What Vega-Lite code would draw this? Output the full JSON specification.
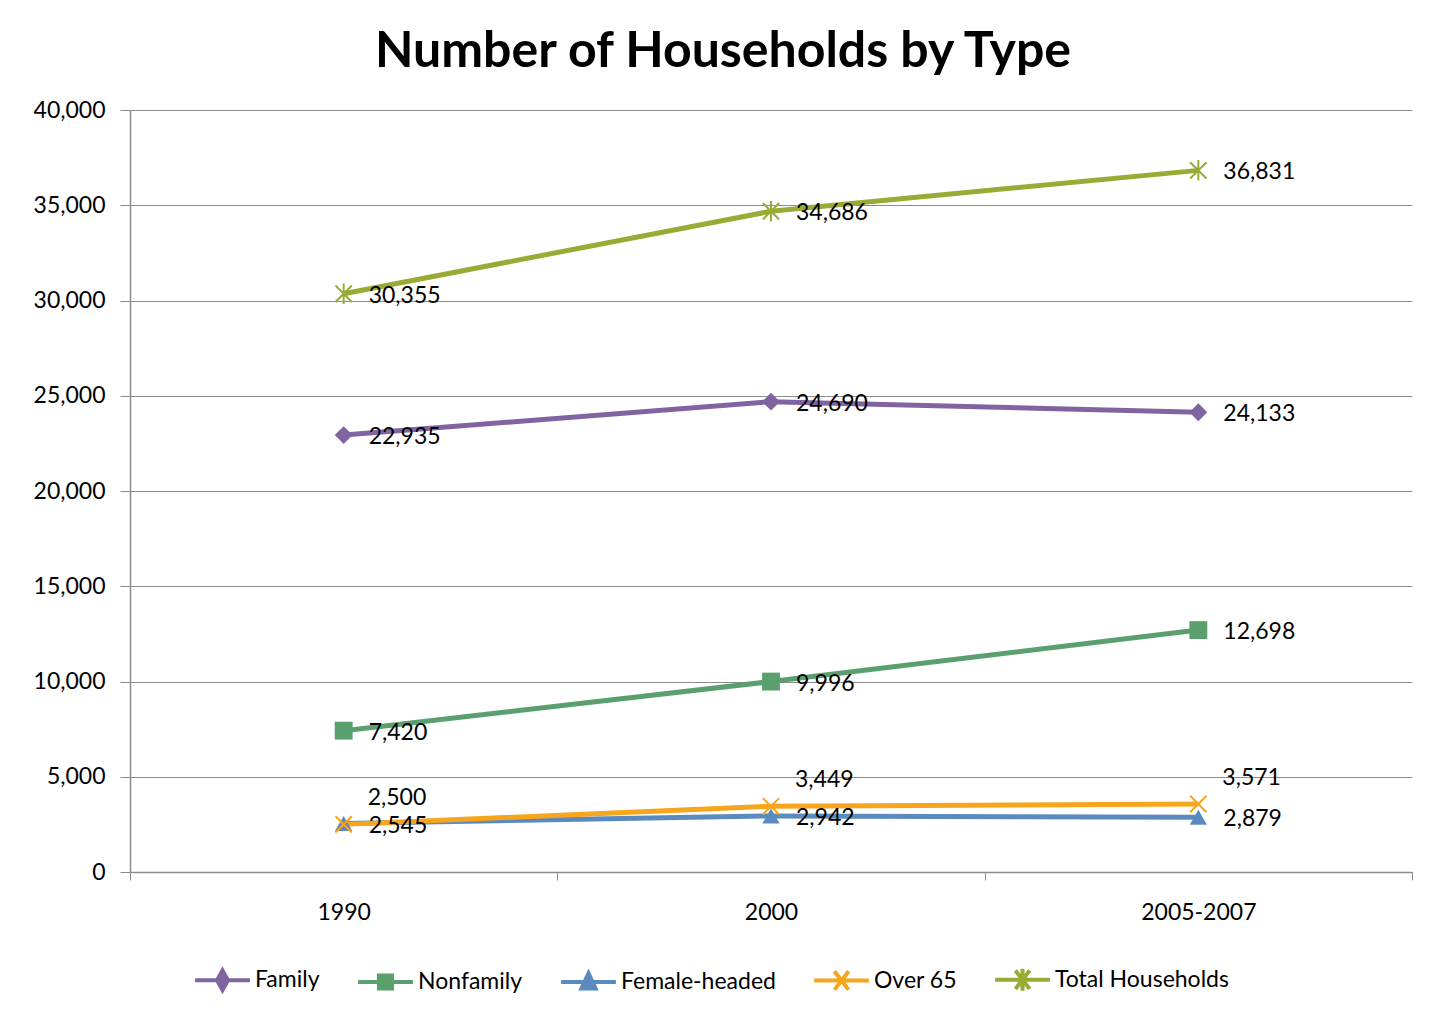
{
  "$schema": "https://vega.github.io/schema/vega-lite/v6.json",
  "width": 1282,
  "height": 762,
  "autosize": {"type": "none"},
  "padding": {"left": 130, "top": 110, "right": 32, "bottom": 145},
  "background": "white",
  "title": {
    "text": "Number of Households by Type",
    "font": "Lato",
    "fontSize": 50,
    "fontWeight": "bold",
    "color": "#000000",
    "anchor": "middle",
    "dx": -48,
    "offset": 22
  },
  "data": {
    "values": [
      {"series": "Family", "period": "1990", "value": 22935, "pos": "right"},
      {"series": "Family", "period": "2000", "value": 24690, "pos": "right"},
      {"series": "Family", "period": "2005-2007", "value": 24133, "pos": "right"},
      {"series": "Nonfamily", "period": "1990", "value": 7420, "pos": "right"},
      {"series": "Nonfamily", "period": "2000", "value": 9996, "pos": "right"},
      {"series": "Nonfamily", "period": "2005-2007", "value": 12698, "pos": "right"},
      {"series": "Female-headed", "period": "1990", "value": 2545, "pos": "right"},
      {"series": "Female-headed", "period": "2000", "value": 2942, "pos": "right"},
      {"series": "Female-headed", "period": "2005-2007", "value": 2879, "pos": "right"},
      {"series": "Over 65", "period": "1990", "value": 2500, "pos": "above"},
      {"series": "Over 65", "period": "2000", "value": 3449, "pos": "above"},
      {"series": "Over 65", "period": "2005-2007", "value": 3571, "pos": "above"},
      {"series": "Total Households", "period": "1990", "value": 30355, "pos": "right"},
      {"series": "Total Households", "period": "2000", "value": 34686, "pos": "right"},
      {"series": "Total Households", "period": "2005-2007", "value": 36831, "pos": "right"}
    ]
  },
  "encoding": {
    "x": {
      "field": "period",
      "type": "nominal",
      "sort": ["1990", "2000", "2005-2007"],
      "scale": {"type": "band", "paddingInner": 0, "paddingOuter": 0},
      "axis": {
        "title": null,
        "labelAngle": 0,
        "tickBand": "extent",
        "labelFont": "Lato",
        "labelFontSize": 23,
        "labelColor": "#000000",
        "labelPadding": 21,
        "tickSize": 8,
        "tickColor": "#8c8c8c",
        "domainColor": "#8c8c8c",
        "domainWidth": 1.5,
        "grid": false
      }
    },
    "y": {
      "field": "value",
      "type": "quantitative",
      "scale": {"domain": [0, 40000], "nice": false},
      "axis": {
        "title": null,
        "values": [0, 5000, 10000, 15000, 20000, 25000, 30000, 35000, 40000],
        "format": ",.0f",
        "labelFont": "Lato",
        "labelFontSize": 23,
        "labelColor": "#000000",
        "labelPadding": 15,
        "tickSize": 10,
        "tickColor": "#8c8c8c",
        "domainColor": "#8c8c8c",
        "domainWidth": 1.5,
        "grid": true,
        "gridColor": "#8c8c8c",
        "gridWidth": 1
      }
    },
    "color": {
      "field": "series",
      "type": "nominal",
      "sort": ["Family", "Nonfamily", "Female-headed", "Over 65", "Total Households"],
      "scale": {
        "domain": ["Family", "Nonfamily", "Female-headed", "Over 65", "Total Households"],
        "range": ["#8064A2", "#5AA06E", "#5B8BBE", "#F7A51C", "#9AAB35"]
      },
      "legend": {
        "title": null,
        "orient": "none",
        "legendX": 63,
        "legendY": 840,
        "direction": "horizontal",
        "labelFont": "Lato",
        "labelFontSize": 23,
        "labelColor": "#000000",
        "labelOffset": 3,
        "labelLimit": 0,
        "columnPadding": 30,
        "symbolSize": 3000,
        "symbolStrokeWidth": 4,
        "encode": {
          "symbols": {
            "update": {
              "shape": {"signal": "datum.value === 'Family' ? 'M-1,0L1,0M0,-0.36L0.2,0L0,0.36L-0.2,0Z' : datum.value === 'Nonfamily' ? 'M-1,0L1,0M-0.24,-0.24L0.24,-0.24L0.24,0.24L-0.24,0.24Z' : datum.value === 'Female-headed' ? 'M-1,0L1,0M0,-0.32L0.26,0.24L-0.26,0.24Z' : datum.value === 'Over 65' ? 'M-1,0L1,0M-0.26,-0.34L0.26,0.34M-0.26,0.34L0.26,-0.34' : 'M-1,0L1,0M-0.26,-0.34L0.26,0.34M-0.26,0.34L0.26,-0.34M0,-0.4L0,0.4'"},
              "fill": {"signal": "datum.value === 'Over 65' || datum.value === 'Total Households' ? 'transparent' : scale('color', datum.value)"},
              "stroke": {"signal": "scale('color', datum.value)"},
              "strokeWidth": {"value": 4}
            }
          }
        }
      }
    }
  },
  "layer": [
    {
      "mark": {"type": "line", "strokeWidth": 5}
    },
    {
      "transform": [{"filter": "datum.series === 'Family'"}],
      "mark": {"type": "point", "filled": true, "shape": "diamond", "size": 320, "opacity": 1}
    },
    {
      "transform": [{"filter": "datum.series === 'Nonfamily'"}],
      "mark": {"type": "point", "filled": true, "shape": "square", "size": 320, "opacity": 1}
    },
    {
      "transform": [{"filter": "datum.series === 'Female-headed'"}],
      "mark": {"type": "point", "filled": true, "shape": "triangle-up", "size": 300, "opacity": 1}
    },
    {
      "transform": [{"filter": "datum.series === 'Over 65'"}],
      "mark": {"type": "point", "filled": false, "shape": "M-0.8,-0.8L0.8,0.8M-0.8,0.8L0.8,-0.8", "size": 420, "strokeWidth": 2, "opacity": 1}
    },
    {
      "transform": [{"filter": "datum.series === 'Total Households'"}],
      "mark": {"type": "point", "filled": false, "shape": "M-0.8,-0.8L0.8,0.8M-0.8,0.8L0.8,-0.8M0,-1L0,1", "size": 420, "strokeWidth": 2, "opacity": 1}
    },
    {
      "transform": [{"filter": "datum.pos === 'right'"}],
      "mark": {"type": "text", "align": "left", "baseline": "middle", "dx": 25, "dy": 2, "font": "Lato", "fontSize": 23, "color": "#000000"},
      "encoding": {
        "color": {"value": "#000000"},
        "text": {"field": "value", "type": "quantitative", "format": ","}
      }
    },
    {
      "transform": [{"filter": "datum.pos === 'above'"}],
      "mark": {"type": "text", "align": "left", "baseline": "middle", "dx": 24, "dy": -26, "font": "Lato", "fontSize": 23, "color": "#000000"},
      "encoding": {
        "color": {"value": "#000000"},
        "text": {"field": "value", "type": "quantitative", "format": ","}
      }
    }
  ],
  "config": {
    "view": {"stroke": null}
  }
}
